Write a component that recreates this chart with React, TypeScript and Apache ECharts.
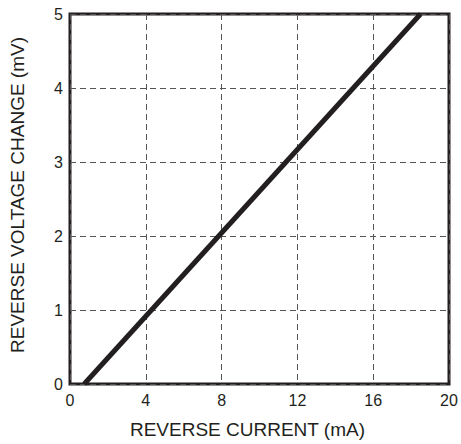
import React, { useEffect, useRef } from "react";
import * as echarts from "echarts";

// Reverse current (mA) vs reverse voltage change (mV)
const currentMA: number[] = [0.75, 18.5];
const voltageChangeMV: number[] = [0, 5];
const xTicks: number[] = [0, 4, 8, 12, 16, 20];
const yTicks: number[] = [0, 1, 2, 3, 4, 5];

const FONT = "Liberation Sans, Arial, sans-serif";

export default function App() {
  const ref = useRef<HTMLDivElement>(null);

  useEffect(() => {
    if (!ref.current) return;
    const chart = echarts.init(ref.current, undefined, { renderer: "svg" });
    const points = currentMA.map((x, i) => [x, voltageChangeMV[i]]);
    chart.setOption({
      animation: false,
      backgroundColor: "#ffffff",
      grid: { left: 68, right: 12, top: 14, bottom: 58, show: true, borderColor: "#231f20", borderWidth: 3 },
      xAxis: {
        type: "value",
        min: xTicks[0],
        max: xTicks[xTicks.length - 1],
        interval: 4,
        name: "REVERSE CURRENT (mA)",
        nameLocation: "middle",
        nameGap: 36,
        nameTextStyle: { fontFamily: FONT, fontSize: 19, color: "#231f20", padding: [0, 24, 0, 0] },
        axisLine: { show: false },
        axisTick: { show: false },
        axisLabel: { fontFamily: FONT, fontSize: 16, color: "#231f20", margin: 8 },
        splitLine: { show: true, lineStyle: { type: [6, 4], color: "#555555", width: 1 } },
      },
      yAxis: {
        type: "value",
        min: yTicks[0],
        max: yTicks[yTicks.length - 1],
        interval: 1,
        name: "REVERSE VOLTAGE CHANGE (mV)",
        nameLocation: "middle",
        nameGap: 43,
        nameTextStyle: { fontFamily: FONT, fontSize: 19, color: "#231f20", padding: [0, 0, 0, 8] },
        axisLine: { show: false },
        axisTick: { show: false },
        axisLabel: { fontFamily: FONT, fontSize: 16, color: "#231f20", margin: 7 },
        splitLine: { show: true, lineStyle: { type: [6, 4], color: "#555555", width: 1 } },
      },
      series: [
        {
          type: "line",
          data: points,
          symbol: "none",
          lineStyle: { color: "#231f20", width: 5 },
          clip: true,
        },
      ],
    });
    return () => chart.dispose();
  }, []);

  return <div ref={ref} style={{ width: 461, height: 444, position: "absolute", left: 0, top: 0 }} />;
}
